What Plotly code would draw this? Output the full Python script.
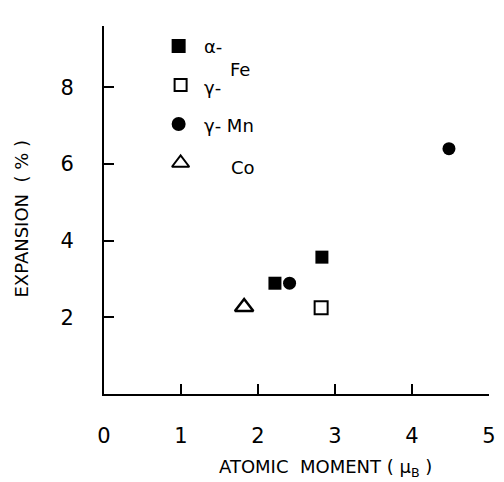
import plotly.graph_objects as go

# ---- data ----
alpha_fe_x = [2.22, 2.83]
alpha_fe_y = [2.89, 3.57]
gamma_fe_x = [2.82]
gamma_fe_y = [2.25]
gamma_mn_x = [2.41, 4.48]
gamma_mn_y = [2.89, 6.40]
co_x = [1.82]
co_y = [2.27]

x_ticks = [0, 1, 2, 3, 4, 5]
x_ticktext = ["0", "1", "2", "3", "4", "5"]
y_ticks = [2, 4, 6, 8, 9.6]
y_ticktext = ["2", "4", "6", "8", ""]

W, H = 504, 482
L, R, T, B = 104, 8, 26, 88
FONT = "DejaVu Sans"

fig = go.Figure()

fig.add_trace(go.Scatter(x=alpha_fe_x, y=alpha_fe_y, mode="markers",
                         marker=dict(symbol="square", size=13, color="black"),
                         showlegend=False))
fig.add_trace(go.Scatter(x=gamma_fe_x, y=gamma_fe_y, mode="markers",
                         marker=dict(symbol="square-open", size=13, color="black",
                                     line=dict(width=2, color="black")),
                         showlegend=False))
fig.add_trace(go.Scatter(x=gamma_mn_x, y=gamma_mn_y, mode="markers",
                         marker=dict(symbol="circle", size=13, color="black"),
                         showlegend=False))
fig.add_trace(go.Scatter(x=co_x, y=co_y, mode="markers",
                         marker=dict(symbol="triangle-up-open", size=16, color="black",
                                     line=dict(width=2.5, color="black")),
                         showlegend=False))

# ---- legend keys drawn on a hidden pixel-unit overlay axis ----
leg_keys = [("square", 180, 46, 12), ("square-open", 182, 85, 12),
            ("circle", 180, 124, 12), ("triangle-up-open", 182, 163, 15)]
for sym, x, y, s in leg_keys:
    fig.add_trace(go.Scatter(x=[x], y=[y], mode="markers", xaxis="x2", yaxis="y2",
                             opacity=1,
                             marker=dict(symbol=sym, size=s, color="black", opacity=1,
                                         line=dict(width=2, color="black")),
                             showlegend=False, hoverinfo="skip"))

def px(x):
    return (x - L) / (W - L - R)

def py(y):
    return (H - B - y) / (H - T - B)

labels = [("α-", 204, 46), ("Fe", 230, 69), ("γ-", 204, 87), ("γ- Mn", 204, 125), ("Co", 231, 167)]
for txt, x, y in labels:
    fig.add_annotation(text=txt, x=px(x), y=py(y), xref="paper", yref="paper",
                       xanchor="left", yanchor="middle", showarrow=False,
                       font=dict(family=FONT, size=18, color="black"))

# axis titles
fig.add_annotation(text="ATOMIC  MOMENT ( μ<sub>B</sub> )", x=px(330), y=py(468),
                   xref="paper", yref="paper", xanchor="center", yanchor="middle",
                   showarrow=False, font=dict(family=FONT, size=18, color="black"))
fig.add_annotation(text="EXPANSION  ( % )", x=px(20), y=py(219),
                   xref="paper", yref="paper", xanchor="center", yanchor="middle",
                   textangle=-90, showarrow=False,
                   font=dict(family=FONT, size=18, color="black"))

fig.update_layout(
    width=W, height=H,
    margin=dict(l=L, r=R, t=T, b=B),
    paper_bgcolor="white", plot_bgcolor="white",
    font=dict(family=FONT, color="black"),
    xaxis=dict(range=[0, 5], tickvals=x_ticks, ticktext=x_ticktext,
               showgrid=False, zeroline=False, showline=True, linecolor="black",
               linewidth=2, ticks="inside", ticklen=10, tickwidth=1.5,
               tickcolor="black", tickfont=dict(size=21, family=FONT),
               ticklabelstandoff=22),
    yaxis=dict(range=[0, 9.6], tickvals=y_ticks, ticktext=y_ticktext,
               showgrid=False, zeroline=False, showline=True, linecolor="black",
               linewidth=2, ticks="inside", ticklen=10, tickwidth=1.5,
               tickcolor="black", tickfont=dict(size=21, family=FONT),
               ticklabelstandoff=24),
    xaxis2=dict(range=[L, W - R], overlaying="x", visible=False, fixedrange=True),
    yaxis2=dict(range=[H - B, T], overlaying="y", visible=False, fixedrange=True),
)

fig.write_html("out.html")
